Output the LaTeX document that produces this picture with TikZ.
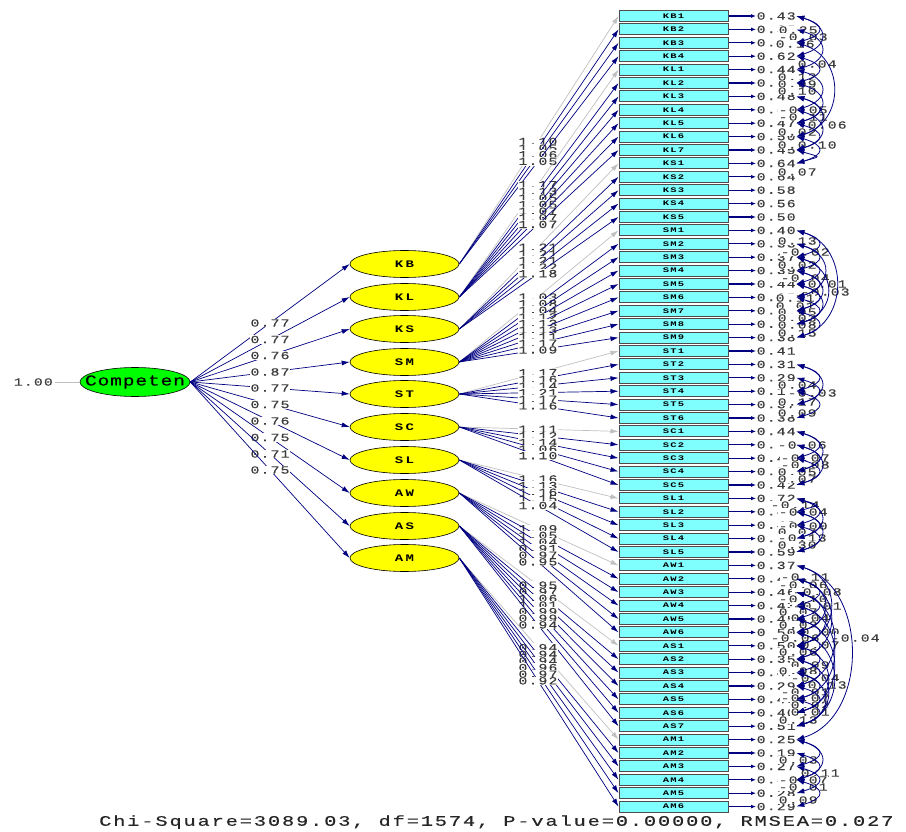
\documentclass[tikz,border=0pt]{standalone}
\usepackage{fontspec}
\usetikzlibrary{arrows.meta,shapes.geometric}
\newfontfamily\numfont[FakeStretch=1.35,LetterSpace=10,FakeBold=0.3]{Liberation Mono}
\newfontfamily\boxfont[FakeStretch=1.5,LetterSpace=18]{Liberation Mono}
\newfontfamily\latfont[FakeStretch=1.4,LetterSpace=25]{Liberation Mono}
\newfontfamily\compfont[FakeStretch=1.3,LetterSpace=6,FakeBold=0.4]{Liberation Mono}
\newfontfamily\chifont[FakeStretch=1.4,LetterSpace=13,FakeBold=0.4]{Liberation Mono}
\definecolor{navyc}{RGB}{0,0,128}
\definecolor{cyanbox}{RGB}{128,255,255}
\definecolor{latyel}{RGB}{255,255,0}
\definecolor{compgreen}{RGB}{0,255,0}
\definecolor{fixgray}{RGB}{192,192,192}
\definecolor{txt}{RGB}{60,60,60}
\tikzset{
 lat/.style={ellipse, draw=black, line width=0.6pt, fill=latyel, minimum width=109pt, minimum height=27pt, inner sep=0pt, font=\latfont\bfseries\fontsize{10}{10}\selectfont},
 obs/.style={rectangle, draw=black!70, line width=1pt, fill=cyanbox, minimum width=109pt, minimum height=11pt, inner sep=0pt, font=\boxfont\bfseries\fontsize{7}{7}\selectfont},
 num/.style={inner sep=0.5pt, text=txt, font=\numfont\fontsize{11}{11}\selectfont},
 lbl/.style={num, fill=white},
 pathar/.style={draw=navyc, line width=0.7pt, -{Latex[length=8pt,width=5pt]}},
 resar/.style={draw=navyc, line width=1.3pt, -{Latex[length=5pt,width=4pt]}},
 covar/.style={draw=navyc, line width=0.8pt, {Latex[length=8pt,width=5.5pt]}-{Latex[length=8pt,width=5.5pt]}},
}
\begin{document}
\begin{tikzpicture}[x=1pt,y=-1pt]
\useasboundingbox (0,0) rectangle (906,832);
% observed boxes
\foreach \nm [count=\i] in {KB1,KB2,KB3,KB4,KL1,KL2,KL3,KL4,KL5,KL6,KL7,KS1,KS2,KS3,KS4,KS5,SM1,SM2,SM3,SM4,SM5,SM6,SM7,SM8,SM9,ST1,ST2,ST3,ST4,ST5,ST6,SC1,SC2,SC3,SC4,SC5,SL1,SL2,SL3,SL4,SL5,AW1,AW2,AW3,AW4,AW5,AW6,AS1,AS2,AS3,AS4,AS5,AS6,AS7,AM1,AM2,AM3,AM4,AM5,AM6}
  \node[obs] (b\i) at (673.5,{16+13.4*(\i-1)}) {\nm};
% latent ellipses
\foreach \nm/\yy in {KB/264,KL/297,KS/329,SM/362,ST/394,SC/427,SL/460,AW/493,AS/526,AM/558}
  \node[lat] (\nm) at (404.5,\yy) {\makebox[0pt]{\nm}};
\node[lat, fill=compgreen, minimum width=110pt, minimum height=29pt, font=\compfont\fontsize{15}{15}\selectfont] (comp) at (135,382) {\makebox[0pt]{Competen}};
\node[num, anchor=east, inner sep=2pt] (var) at (55,382) {1.00};
\draw[fixgray, line width=0.8pt] (var.east) -- (comp.west);
% structural paths
\foreach \nm/\v in {KB/0.77,KL/0.77,KS/0.76,SM/0.87,ST/0.77,SC/0.75,SL/0.76,AW/0.75,AS/0.71,AM/0.75}
  \draw[pathar] (comp.east) -- node[lbl, pos=0.5] {\v} (\nm.west);
% loadings
\foreach \lt/\first/\vals in {KB/1/{1.10,1.05,1.06,1.05},KL/5/{1.17,1.13,1.05,1.05,1.07,1.07,1.07},KS/12/{1.21,1.21,1.21,1.22,1.18},SM/17/{1.03,1.08,1.04,1.12,1.13,1.13,1.11,1.17,1.09},ST/26/{1.17,1.16,1.14,1.21,1.17,1.16},SC/32/{1.11,1.12,1.14,1.06,1.10},SL/37/{1.16,1.13,1.16,1.15,1.04},AW/42/{1.09,1.05,1.04,0.91,0.97,0.95},AS/48/{0.95,0.97,1.06,1.01,0.99,0.99,0.94},AM/55/{0.94,0.94,0.94,0.96,0.97,0.92}}{
  \foreach \v [count=\k from 0] in \vals {
    \pgfmathtruncatemacro\rr{\first+\k}
    \ifnum\k=0 \def\col{fixgray}\else\def\col{navyc}\fi
    \draw[pathar, draw=\col] (\lt.east) -- node[lbl, pos=0.494] {\v} (b\rr.west);
  }
}
% residual variances
\foreach \v [count=\i] in {0.43,0.35,0.41,0.62,0.44,0.39,0.48,0.52,0.47,0.50,0.45,0.64,0.64,0.58,0.56,0.50,0.40,0.33,0.37,0.39,0.44,0.35,0.36,0.31,0.38,0.41,0.31,0.29,0.19,0.37,0.38,0.44,0.40,0.47,0.50,0.42,0.72,0.45,0.43,0.41,0.59,0.37,0.49,0.46,0.43,0.45,0.50,0.50,0.35,0.46,0.29,0.43,0.40,0.51,0.25,0.19,0.27,0.32,0.28,0.29}{
  \node[num, anchor=west] (r\i) at (756,{16+13.4*(\i-1)}) {\v};
  \draw[resar] (b\i.east) -- (r\i.west);
}
% error covariance labels
\foreach \xx/\yy/\t [count=\j] in {778/30/0.25,778/37/-0.03,775/44/0.16,797/64/0.04,777/77/0.12,777/84/0.09,777/91/0.10,778/110/-0.05,778/117/-0.11,797/125/-0.06,777/132/0.02,777/145/0.08,797/145/0.10,777/172/0.07,
777/241/0.13,780/252/-0.02,777/265/0.02,780/278/-0.04,797/284/-0.01,800/292/-0.03,775/298/0.11,775/306/0.01,777/312/0.05,777/318/0.03,777/325/0.08,777/333/0.15,
777/385/0.04,787/393/-0.03,777/402/0.17,777/413/0.09,
777/445/-0.06,780/458/-0.07,780/465/-0.08,777/472/0.05,777/479/0.07,
770/505/-0.14,778/512/-0.04,778/526/-0.00,777/532/0.07,777/538/-0.13,777/545/0.30,
780/577/-0.11,778/585/-0.06,792/592/-0.08,778/599/-0.10,792/606/-0.01,778/612/0.07,790/618/0.04,778/625/0.02,800/632/0.00,770/638/-0.06,830/638/-0.04,800/645/0.07,778/652/0.06,790/665/0.09,778/671/0.08,790/678/-0.04,807/685/0.13,780/692/-0.01,780/698/-0.07,790/705/0.02,790/712/0.01,778/720/0.13,
778/760/0.03,800/773/0.11,778/780/-0.07,778/787/-0.01,778/800/0.09}
  \node[lbl, anchor=west] (c\j) at (\xx,\yy) {\t};
% error covariance arcs
\foreach \a/\b in {1/4,1/3,2/5,3/10,4/6,5/8,6/9,7/9,7/10,8/11,9/11,10/12,11/12,
17/25,17/19,18/20,18/22,19/21,20/22,21/23,22/24,23/25,19/24,20/23,21/24,
27/29,28/30,29/31,27/30,
32/34,33/35,32/35,34/36,33/36,
37/39,38/40,39/41,37/40,38/41,37/38,
42/55,42/48,43/45,44/46,45/47,46/48,47/49,48/50,49/51,50/52,51/53,52/54,43/49,44/51,45/52,46/53,47/54,48/53,43/47,49/54,44/48,50/54,
55/57,56/58,57/59,58/60,55/58}{
  \pgfmathsetmacro\cx{(16+0.22*13.4*(\b-\a))/0.75}
  \pgfmathsetmacro\cy{0.3*\cx}
  \draw[covar] (r\a.east) .. controls +(\cx,\cy) and +(\cx,-\cy) .. (r\b.east);
}
\node[anchor=west, inner sep=0pt, text=black!85, font=\chifont\fontsize{14.5}{14.5}\selectfont] (chi) at (99,822) {Chi-Square=3089.03, df=1574, P-value=0.00000, RMSEA=0.027};
\end{tikzpicture}
\end{document}
